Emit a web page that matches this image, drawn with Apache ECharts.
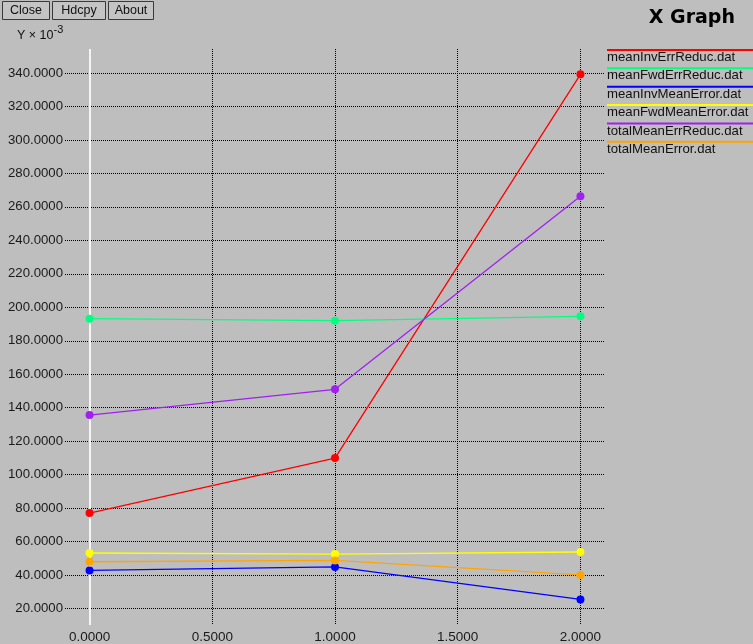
<!DOCTYPE html>
<html>
<head>
<meta charset="utf-8">
<title>X Graph</title>
<script src="https://cdn.jsdelivr.net/npm/echarts@6/dist/echarts.min.js"></script>
<style>
  html, body { margin: 0; padding: 0; background: #bebebe; }
  #chart { width: 753px; height: 644px; }
</style>
</head>
<body>
<div id="chart"></div>
<script>
// x positions of the samples
const xValues = [0, 1, 2];

// one array per data file (values are in units of 1e-3)
const meanInvErrReduc   = [77.1, 109.9, 339.2];
const meanFwdErrReduc   = [193.2, 192.0, 194.6];
const meanInvMeanError  = [42.8, 44.9, 25.5];
const meanFwdMeanError  = [53.2, 52.6, 53.8];
const totalMeanErrReduc = [135.6, 151.0, 266.3];
const totalMeanError    = [48.0, 48.8, 40.1];

const seriesNames = [
  'meanInvErrReduc.dat',
  'meanFwdErrReduc.dat',
  'meanInvMeanError.dat',
  'meanFwdMeanError.dat',
  'totalMeanErrReduc.dat',
  'totalMeanError.dat'
];
const seriesValues = [
  meanInvErrReduc, meanFwdErrReduc, meanInvMeanError,
  meanFwdMeanError, totalMeanErrReduc, totalMeanError
];
const seriesColors = ['#ff0000', '#00ff7f', '#0000ff', '#ffff00', '#a020f0', '#ffa500'];

// tick positions
const xTicks = [0, 0.5, 1, 1.5, 2];
const yTicks = [20, 40, 60, 80, 100, 120, 140, 160, 180, 200, 220, 240, 260, 280, 300, 320, 340];

const buttonLabels = ['Close', 'Hdcpy', 'About'];

const FONT = '"Liberation Sans", Helvetica, Arial, sans-serif';
const chart = echarts.init(document.getElementById('chart'), null, { renderer: 'canvas' });

// dotted grid, one pixel on / one pixel off
const gridLine = { show: true, lineStyle: { color: '#000000', width: 1, type: [1, 1] } };

const lineSeries = seriesNames.map((name, i) => ({
  name: name,
  type: 'line',
  z: 3 + i,
  data: xValues.map((x, k) => [x, seriesValues[i][k]]),
  symbol: 'circle',
  symbolSize: 8,
  showSymbol: true,
  animation: false,
  lineStyle: { color: seriesColors[i], width: 1.3 },
  itemStyle: { color: seriesColors[i] }
}));

// white zero axis at x = 0, drawn beneath the data lines
const zeroAxis = {
  type: 'line',
  z: 1,
  data: [],
  silent: true,
  animation: false,
  markLine: {
    z: 1,
    silent: true,
    symbol: 'none',
    label: { show: false },
    animation: false,
    lineStyle: { color: '#f4f4f4', width: 2, type: 'solid' },
    data: [{ xAxis: 0 }]
  }
};

// button row, axis unit caption, title and the legend on the right
const graphics = [];
const btnBoxes = [[2, 1, 47, 18], [52, 1, 53, 18], [108, 1, 45, 18]];
buttonLabels.forEach((label, i) => {
  const b = btnBoxes[i];
  graphics.push({
    type: 'rect',
    shape: { x: b[0] + 0.5, y: b[1] + 0.5, width: b[2], height: b[3] },
    style: { fill: '#c4c4c4', stroke: '#3a3a3a', lineWidth: 1 }
  });
  graphics.push({
    type: 'text',
    style: {
      x: b[0] + b[2] / 2 + 0.5, y: b[1] + b[3] / 2 + 1,
      text: label, fill: '#111', font: '12.5px ' + FONT,
      align: 'center', verticalAlign: 'middle'
    }
  });
});
graphics.push({
  type: 'text',
  style: {
    x: 17, y: 33,
    text: '{a|Y \u00d7 10}{b|-3}',
    rich: {
      a: { fontSize: 12.5, fontFamily: FONT, fill: '#111', verticalAlign: 'bottom' },
      b: { fontSize: 11, fontFamily: FONT, fill: '#111', padding: [0, 0, 7, 0] }
    },
    fill: '#111',
    verticalAlign: 'middle'
  }
});
graphics.push({
  type: 'text',
  style: {
    x: 735, y: 18,
    text: 'X Graph', fill: '#000',
    font: 'bold 19px "DejaVu Sans", sans-serif',
    align: 'right', verticalAlign: 'middle'
  }
});
seriesNames.forEach((name, i) => {
  const ly = 50 + i * 18.35;
  graphics.push({
    type: 'line',
    shape: { x1: 607, y1: ly, x2: 753, y2: ly },
    style: { stroke: seriesColors[i], lineWidth: 2 }
  });
  graphics.push({
    type: 'text',
    style: {
      x: 607, y: ly + 7.5,
      text: name, fill: '#111', font: '13.2px ' + FONT,
      align: 'left', verticalAlign: 'middle'
    }
  });
});

chart.setOption({
  backgroundColor: '#bebebe',
  animation: false,
  grid: { left: 65, right: 148, top: 49, bottom: 17, containLabel: false },
  xAxis: {
    type: 'value',
    min: -0.1,
    max: 2.1,
    axisLine: { show: false },
    axisTick: { show: false, customValues: xTicks },
    axisLabel: {
      customValues: xTicks,
      formatter: v => v.toFixed(4),
      color: '#1a1a1a',
      fontFamily: FONT,
      fontSize: 13.5,
      margin: 5
    },
    splitLine: gridLine
  },
  yAxis: {
    type: 'value',
    min: 10.2,
    max: 354.3,
    axisLine: { show: false },
    axisTick: { show: false, customValues: yTicks },
    axisLabel: {
      customValues: yTicks,
      formatter: v => v.toFixed(4),
      color: '#1a1a1a',
      fontFamily: FONT,
      fontSize: 13.2,
      margin: 2
    },
    splitLine: gridLine
  },
  series: [zeroAxis].concat(lineSeries),
  graphic: graphics
});
</script>
</body>
</html>
